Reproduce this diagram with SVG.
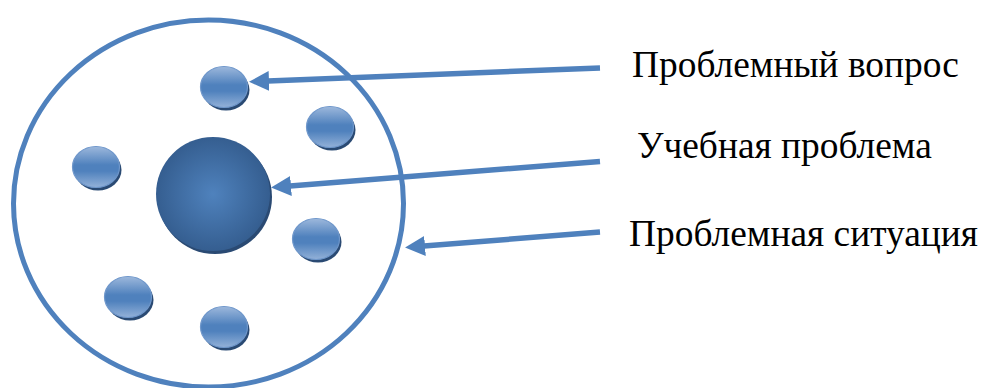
<svg xmlns="http://www.w3.org/2000/svg" width="983" height="388" viewBox="0 0 983 388">
<style>
.lbl{font-family:"Liberation Serif","Times New Roman",serif;font-size:37.4px;fill:#000}
.conn{stroke:#4f81bd;stroke-width:5.5;fill:none}
.shadow{fill:#2a4a73}
.ball{fill:url(#gSmall);stroke:#6f97cb;stroke-width:1.2}
</style>
<defs>
<linearGradient id="gSmall" x1="0" y1="0" x2="0" y2="1">
<stop offset="0" stop-color="#9db8dc"/>
<stop offset="0.45" stop-color="#4f81bd"/>
<stop offset="0.6" stop-color="#4f81bd"/>
<stop offset="1" stop-color="#93b1d8"/>
</linearGradient>
<radialGradient id="gBig" cx="0.5" cy="0.5" r="0.5">
<stop offset="0" stop-color="#4f82bd"/>
<stop offset="1" stop-color="#355e90"/>
</radialGradient>
<marker id="ah" viewBox="0 0 20 20" refX="1" refY="10" markerWidth="20" markerHeight="20" markerUnits="userSpaceOnUse" orient="auto">
<path d="M0,0 L20,10 L0,20 Z" fill="#4f81bd"/>
</marker>
</defs>
<g id="situation">
<ellipse cx="208.5" cy="203.5" rx="195" ry="183.5" fill="none" stroke="#4f81bd" stroke-width="5"/>
</g>
<g id="problem">
<circle cx="215" cy="197" r="57" class="shadow" fill="#243f66"/>
<circle cx="213" cy="194" r="57" fill="url(#gBig)"/>
</g>
<g id="q1"><ellipse cx="226" cy="90" rx="23.5" ry="20.5" class="shadow"/><ellipse cx="224" cy="87" rx="23.5" ry="20.5" class="ball"/></g>
<g id="q2"><ellipse cx="332" cy="130" rx="23.5" ry="20.5" class="shadow"/><ellipse cx="330" cy="127" rx="23.5" ry="20.5" class="ball"/></g>
<g id="q3"><ellipse cx="98" cy="170" rx="23.5" ry="20.5" class="shadow"/><ellipse cx="96" cy="167" rx="23.5" ry="20.5" class="ball"/></g>
<g id="q4"><ellipse cx="318" cy="242" rx="23.5" ry="20.5" class="shadow"/><ellipse cx="316" cy="239" rx="23.5" ry="20.5" class="ball"/></g>
<g id="q5"><ellipse cx="130" cy="300" rx="23.5" ry="20.5" class="shadow"/><ellipse cx="128" cy="297" rx="23.5" ry="20.5" class="ball"/></g>
<g id="q6"><ellipse cx="226" cy="330" rx="23.5" ry="20.5" class="shadow"/><ellipse cx="224" cy="327" rx="23.5" ry="20.5" class="ball"/></g>
<g id="connectors">
<line class="conn" x1="600" y1="68" x2="268" y2="81" marker-end="url(#ah)"/>
<line class="conn" x1="600" y1="161.5" x2="290" y2="186" marker-end="url(#ah)"/>
<line class="conn" x1="600" y1="232" x2="424" y2="246" marker-end="url(#ah)"/>
</g>
<g id="labels">
<text class="lbl" x="632" y="77">Проблемный вопрос</text>
<text class="lbl" x="637" y="158">Учебная проблема</text>
<text class="lbl" x="629" y="246">Проблемная ситуация</text>
</g>
</svg>
